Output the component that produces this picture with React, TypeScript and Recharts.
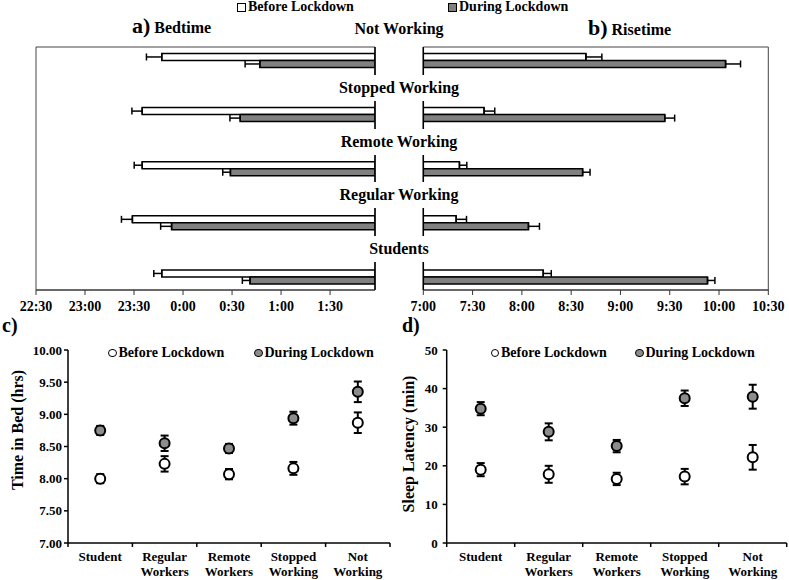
import React from 'react';
import {
  BarChart,
  Bar,
  XAxis,
  YAxis,
  ErrorBar,
  ReferenceArea,
  ReferenceLine,
  ComposedChart,
  Line,
} from 'recharts';

const FONT = '"Liberation Serif", "Times New Roman", Times, serif';
const GRAY_BAR = '#808080';
const GRAY_DOT = '#8c8c8c';

// ---------- Panels a) and b) ----------
const groups = ['Not Working', 'Stopped Working', 'Remote Working', 'Regular Working', 'Students'];
const bedBefore = ['23:47', '23:35', '23:35', '23:29', '23:47'];
const bedDuring = ['0:47', '0:35', '0:29', '23:53', '0:41'];
const bedBeforeErr = [9.4, 6.3, 4.9, 6.7, 4.9];
const bedDuringErr = [9.0, 6.3, 4.7, 6.7, 4.7];
const riseBefore = ['8:39', '7:37', '7:22', '7:20', '8:13'];
const riseDuring = ['10:04', '9:27', '8:37', '8:04', '9:53'];
const riseBeforeErr = [9.7, 6.5, 4.5, 6.3, 4.9];
const riseDuringErr = [9.1, 6.0, 4.5, 6.7, 4.5];
const bedTicks = ['22:30', '23:00', '23:30', '0:00', '0:30', '1:00', '1:30'];
const riseTicks = ['7:00', '7:30', '8:00', '8:30', '9:00', '9:30', '10:00', '10:30'];
const bedAxisStart = '22:30';
const bedAxisEnd = '1:57.5';
const riseAxisStart = '7:00';
const riseAxisEnd = '10:30';

// ---------- Panels c) and d) ----------
const cats = ['Student', 'Regular\nWorkers', 'Remote\nWorkers', 'Stopped\nWorking', 'Not\nWorking'];
const tibBefore = [8.0, 8.23, 8.07, 8.16, 8.87];
const tibBeforeErr = [0.07, 0.12, 0.08, 0.1, 0.16];
const tibDuring = [8.75, 8.55, 8.47, 8.94, 9.35];
const tibDuringErr = [0.07, 0.12, 0.07, 0.1, 0.16];
const tibTicks = [7, 7.5, 8, 8.5, 9, 9.5, 10];
const slBefore = [19.0, 17.8, 16.6, 17.2, 22.2];
const slBeforeErr = [1.7, 2.2, 1.6, 2.0, 3.2];
const slDuring = [34.8, 28.8, 25.1, 37.5, 37.9];
const slDuringErr = [1.7, 2.2, 1.6, 2.0, 3.1];
const slTicks = [0, 10, 20, 30, 40, 50];

const legendLabels = ['Before Lockdown', 'During Lockdown'];

// ---------- helpers ----------
const toMin = (t: string) => {
  const [h, m] = t.split(':').map(Number);
  return h * 60 + m;
};
const bedMin = (t: string) => {
  let v = toMin(t);
  if (v < 12 * 60) v += 1440;
  return v - toMin(bedAxisStart);
};
const riseMin = (t: string) => toMin(t) - toMin(riseAxisStart);

const BED_END = bedMin(bedAxisEnd);
const RISE_END = riseMin(riseAxisEnd);
// in this vertical layout, position 0 is drawn at the top
const POS_DOMAIN: [number, number] = [-0.25, 4.24];

const bedData = groups.map((g, i) => ({
  pos: i,
  name: g,
  before: BED_END - bedMin(bedBefore[i]),
  during: BED_END - bedMin(bedDuring[i]),
  beforeErr: [0, bedBeforeErr[i]],
  duringErr: [0, bedDuringErr[i]],
}));
const riseData = groups.map((g, i) => ({
  pos: i,
  name: g,
  before: riseMin(riseBefore[i]),
  during: riseMin(riseDuring[i]),
  beforeErr: [0, riseBeforeErr[i]],
  duringErr: [0, riseDuringErr[i]],
}));
const bedTickVals = bedTicks.map((t) => BED_END - bedMin(t));
const riseTickVals = riseTicks.map((t) => riseMin(t));

const tibData = cats.map((c, i) => ({
  pos: i,
  before: tibBefore[i],
  during: tibDuring[i],
  beforeErr: tibBeforeErr[i],
  duringErr: tibDuringErr[i],
}));
const slData = cats.map((c, i) => ({
  pos: i,
  before: slBefore[i],
  during: slDuring[i],
  beforeErr: slBeforeErr[i],
  duringErr: slDuringErr[i],
}));
const catTickVals = [-0.5, 0.5, 1.5, 2.5, 3.5, 4.5];

const axisTickStyle = { fill: '#000', fontSize: 14, fontWeight: 700, fontFamily: FONT };
const smallTickStyle = { fill: '#000', fontSize: 13, fontWeight: 700, fontFamily: FONT };

const CatTick = (props: any) => {
  const { x, y, payload, band } = props;
  const idx = Math.round(payload.value + 0.5);
  if (idx < 0 || idx >= cats.length) return null;
  const lines = cats[idx].split('\n');
  const cx = x + band / 2;
  return (
    <text x={cx} y={y} textAnchor="middle" fontFamily={FONT} fontSize={13} fontWeight={700} fill="#000">
      {lines.map((w, k) => (
        <tspan key={k} x={cx} dy={k === 0 ? 12 : 15}>
          {w}
        </tspan>
      ))}
    </text>
  );
};

const Txt = ({ x, y, size = 16, children, style = {} }: any) => (
  <div
    style={{
      position: 'absolute',
      left: x,
      top: y,
      transform: 'translate(-50%, -50%)',
      whiteSpace: 'nowrap',
      fontFamily: FONT,
      fontWeight: 700,
      fontSize: size,
      lineHeight: 1,
      color: '#000',
      ...style,
    }}
  >
    {children}
  </div>
);

const BarPanel = ({ data, width, margin, end, tickVals, tickLabels, reversed, baseline }: any) => (
  <BarChart
    width={width}
    height={320}
    data={data}
    layout="vertical"
    margin={margin}
    barGap={0}
    barSize={7}
    style={{ fontFamily: FONT }}
  >
    <XAxis
      type="number"
      domain={[0, end]}
      reversed={reversed}
      ticks={tickVals}
      interval={0}
      allowDataOverflow
      tickFormatter={(v: number) => {
        const i = tickVals.findIndex((t: number) => Math.abs(t - v) < 1e-6);
        return i >= 0 ? tickLabels[i] : '';
      }}
      tickSize={5}
      tickMargin={6}
      height={30}
      stroke="#333"
      tick={axisTickStyle}
    />
    <YAxis type="number" dataKey="pos" domain={POS_DOMAIN} hide allowDataOverflow />
    <ReferenceArea
      x1={0}
      x2={end}
      y1={POS_DOMAIN[0]}
      y2={POS_DOMAIN[1]}
      fill="none"
      fillOpacity={0}
      stroke="#444"
      strokeWidth={1}
    />
    <Bar dataKey="before" fill="#fff" stroke="#000" strokeWidth={1.5} isAnimationActive={false}>
      <ErrorBar dataKey="beforeErr" width={3.5} stroke="#000" strokeWidth={1.5} direction="x" />
    </Bar>
    <Bar dataKey="during" fill={GRAY_BAR} stroke="#000" strokeWidth={1.5} isAnimationActive={false}>
      <ErrorBar dataKey="duringErr" width={3.5} stroke="#000" strokeWidth={1.5} direction="x" />
    </Bar>
    <ReferenceLine x={baseline} stroke="#000" strokeWidth={1.5} />
  </BarChart>
);

const PointPanel = ({ data, width, margin, yWidth, domain, ticks, fmt, band, tickMargin }: any) => (
  <ComposedChart width={width} height={270} data={data} margin={margin} style={{ fontFamily: FONT }}>
    <XAxis
      type="number"
      dataKey="pos"
      domain={[-0.5, 4.5]}
      ticks={catTickVals}
      interval={0}
      allowDataOverflow
      tickSize={4}
      tickMargin={2}
      height={37}
      axisLine={{ stroke: '#000', strokeWidth: 1.5 }}
      tickLine={{ stroke: '#000', strokeWidth: 1.5 }}
      tick={<CatTick band={band} />}
    />
    <YAxis
      type="number"
      width={yWidth}
      domain={domain}
      ticks={ticks}
      interval={0}
      allowDataOverflow
      tickFormatter={fmt}
      tickSize={4}
      tickMargin={tickMargin}
      axisLine={{ stroke: '#000', strokeWidth: 1.5 }}
      tickLine={{ stroke: '#000', strokeWidth: 1.5 }}
      tick={smallTickStyle}
    />
    <Line
      dataKey="before"
      stroke="none"
      isAnimationActive={false}
      activeDot={false}
      dot={{ r: 5, fill: '#fff', stroke: '#000', strokeWidth: 2 }}
    >
      <ErrorBar dataKey="beforeErr" width={4} stroke="#000" strokeWidth={2} direction="y" />
    </Line>
    <Line
      dataKey="during"
      stroke="none"
      isAnimationActive={false}
      activeDot={false}
      dot={{ r: 5, fill: GRAY_DOT, stroke: '#000', strokeWidth: 2 }}
    >
      <ErrorBar dataKey="duringErr" width={4} stroke="#000" strokeWidth={2} direction="y" />
    </Line>
  </ComposedChart>
);

const legendRow: any = {
  position: 'absolute',
  display: 'flex',
  alignItems: 'center',
  fontFamily: FONT,
  fontWeight: 700,
  fontSize: 14,
  lineHeight: 1,
  whiteSpace: 'nowrap',
};

const PointLegend = ({ x1, x2, y }: any) => (
  <>
    <div style={{ ...legendRow, left: x1, top: y }}>
      <span style={{ display: 'inline-block', width: 6.5, height: 6.5, border: '1.6px solid #000', borderRadius: '50%', background: '#fff', marginRight: 2 }} />
      <span>{legendLabels[0]}</span>
    </div>
    <div style={{ ...legendRow, left: x2, top: y }}>
      <span style={{ display: 'inline-block', width: 6.5, height: 6.5, border: '1.6px solid #000', borderRadius: '50%', background: GRAY_DOT, marginRight: 2 }} />
      <span>{legendLabels[1]}</span>
    </div>
  </>
);

const groupLabelY = [28.6, 88, 141.5, 195, 249];

export default function App() {
  return (
    <div
      style={{
        position: 'absolute',
        left: 0,
        top: 0,
        width: 789,
        height: 580,
        background: '#fff',
        overflow: 'hidden',
        fontFamily: FONT,
      }}
    >
      <div style={{ position: 'absolute', left: 0, top: 0 }}>
        <BarPanel
          data={bedData}
          width={390}
          margin={{ top: 47, right: 15, bottom: 0, left: 36 }}
          end={BED_END}
          tickVals={bedTickVals}
          tickLabels={bedTicks}
          reversed
          baseline={0}
        />
      </div>
      <div style={{ position: 'absolute', left: 390, top: 0 }}>
        <BarPanel
          data={riseData}
          width={399}
          margin={{ top: 47, right: 20.7, bottom: 0, left: 33.3 }}
          end={RISE_END}
          tickVals={riseTickVals}
          tickLabels={riseTicks}
          reversed={false}
          baseline={0}
        />
      </div>
      <div style={{ position: 'absolute', left: 0, top: 310 }}>
        <PointPanel
          data={tibData}
          width={395}
          margin={{ top: 40, right: 5, bottom: 0, left: 0 }}
          yWidth={68}
          domain={[7, 10]}
          ticks={tibTicks}
          fmt={(v: number) => v.toFixed(2)}
          band={64.4}
          tickMargin={2}
        />
      </div>
      <div style={{ position: 'absolute', left: 395, top: 310 }}>
        <PointPanel
          data={slData}
          width={394}
          margin={{ top: 40, right: 2.3, bottom: 0, left: 0 }}
          yWidth={51.7}
          domain={[0, 50]}
          ticks={slTicks}
          fmt={(v: number) => String(v)}
          band={68}
          tickMargin={5}
        />
      </div>

      {/* top legend */}
      <div style={{ ...legendRow, left: 237, top: 0 }}>
        <span style={{ display: 'inline-block', width: 7, height: 7, border: '1.6px solid #000', background: '#fff', marginRight: 2 }} />
        <span>{legendLabels[0]}</span>
      </div>
      <div style={{ ...legendRow, left: 448, top: 0 }}>
        <span style={{ display: 'inline-block', width: 7, height: 7, border: '1.6px solid #000', background: GRAY_BAR, marginRight: 2 }} />
        <span>{legendLabels[1]}</span>
      </div>

      {/* titles */}
      <div style={{ position: 'absolute', left: 132, top: 15, display: 'flex', alignItems: 'baseline', fontFamily: FONT, fontWeight: 700, lineHeight: 1, whiteSpace: 'nowrap' }}>
        <span style={{ fontSize: 22 }}>a)</span>
        <span style={{ fontSize: 16, marginLeft: 4 }}>Bedtime</span>
      </div>
      <div style={{ position: 'absolute', left: 588, top: 17, display: 'flex', alignItems: 'baseline', fontFamily: FONT, fontWeight: 700, lineHeight: 1, whiteSpace: 'nowrap' }}>
        <span style={{ fontSize: 22 }}>b)</span>
        <span style={{ fontSize: 16, marginLeft: 4 }}>Risetime</span>
      </div>

      {/* group labels */}
      {groups.map((g, i) => (
        <Txt key={g} x={399} y={groupLabelY[i]} size={16} style={{ background: '#fff', padding: '0 4px', lineHeight: '26px' }}>
          {g}
        </Txt>
      ))}

      {/* panel c / d labels */}
      <div style={{ position: 'absolute', left: 2, top: 315, fontFamily: FONT, fontWeight: 700, fontSize: 20, lineHeight: 1 }}>c)</div>
      <div style={{ position: 'absolute', left: 402, top: 315, fontFamily: FONT, fontWeight: 700, fontSize: 20, lineHeight: 1 }}>d)</div>

      <Txt x={18} y={430} size={16} style={{ transform: 'translate(-50%, -50%) rotate(-90deg)' }}>
        Time in Bed (hrs)
      </Txt>
      <Txt x={409} y={443.5} size={16} style={{ transform: 'translate(-50%, -50%) rotate(-90deg)' }}>
        Sleep Latency (min)
      </Txt>

      <PointLegend x1={108} x2={254} y={346} />
      <PointLegend x1={490.5} x2={635} y={346} />
    </div>
  );
}
